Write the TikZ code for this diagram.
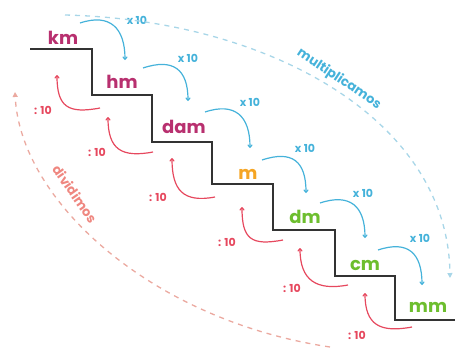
\documentclass[tikz,border=0pt]{standalone}
\usepackage{fontspec}
\setmainfont{Poppins}
\usetikzlibrary{arrows.meta}
\definecolor{unitpink}{HTML}{B8306F}
\definecolor{unitorange}{HTML}{F5A524}
\definecolor{unitgreen}{HTML}{6DBE2E}
\definecolor{mulblue}{HTML}{45B2DA}
\definecolor{divred}{HTML}{E6485E}
\definecolor{mulpale}{HTML}{A8D6E8}
\definecolor{divpale}{HTML}{EBA9A0}
\definecolor{stairgray}{HTML}{333333}
\begin{document}
\begin{tikzpicture}[
    x=1pt, y=-1pt, % pixel grid, y pointing down
    unit/.style = {anchor=base, inner sep=0pt, font=\fontsize{18}{18}\selectfont\bfseries},
    stairs/.style = {draw=stairgray, line width=2.4pt},
    mularrow/.style = {draw=mulblue, line width=1.2pt, -{To[length=3.5pt,width=5pt]}},
    divarrow/.style = {draw=divred, line width=1.2pt, -{To[length=3.5pt,width=5pt]}},
    factor/.style = {inner sep=0pt, font=\fontsize{11}{11}\selectfont\bfseries}
    ]
    \tikzstyle{bigarc} = [line width=1.3pt, dash pattern=on 5pt off 5pt]
    \tikzstyle{arctext} = [inner sep=0pt, font=\fontsize{13}{13}\selectfont\bfseries]
    \useasboundingbox (0,0) rectangle (455,349);

    % staircase
    \draw[stairs] (30,49) -- (92,49) -- (92,95) -- (152,95) -- (152,142)
        -- (212,142) -- (212,184) -- (273,184) -- (273,230) -- (335,230)
        -- (335,276) -- (395,276) -- (395,320) -- (455,320);

    % units
    \node[unit, text=unitpink]   (km)  at (63,44)   {km};
    \node[unit, text=unitpink]   (hm)  at (122,88)  {hm};
    \node[unit, text=unitpink]   (dam) at (184,133) {dam};
    \node[unit, text=unitorange] (m)   at (248,179) {m};
    \node[unit, text=unitgreen]  (dm)  at (305,223) {dm};
    \node[unit, text=unitgreen]  (cm)  at (365,270) {cm};
    \node[unit, text=unitgreen]  (mm)  at (428,312) {mm};

    % x 10 steps down
    \foreach \sx/\sy/\ex/\ey/\lx/\ly [count=\i] in {
        80/23/125/60/137/20, 143/68/188/101/188/58, 205/112/250/148/250/102,
        262/160/306/193/305/148, 320/203/365/238/363/193, 378/250/422/285/420/238} {
        \coordinate (ms\i) at (\sx,\sy);
        \coordinate (me\i) at (\ex,\ey);
        \draw[mularrow] (ms\i) .. controls +(30,-10) and +(0,-32) .. (me\i);
        \node[factor, text=mulblue] (mf\i) at (\lx,\ly) {x 10};
    }

    % : 10 steps up
    \foreach \sx/\sy/\ex/\ey/\lx/\ly [count=\i] in {
        100/108/57/75/43/110, 153/152/108/117/97/152, 215/197/172/158/158/197,
        283/240/242/207/227/242, 348/285/300/248/292/288, 412/327/365/293/357/335} {
        \coordinate (ds\i) at (\sx,\sy);
        \coordinate (de\i) at (\ex,\ey);
        \draw[divarrow] (ds\i) .. controls +(-32,6) and +(0,32) .. (de\i);
        \node[factor, text=divred] (df\i) at (\lx,\ly) {: 10};
    }

    % big arcs
    \coordinate (mulA) at (65,15);
    \coordinate (mulB) at (450,278);
    \coordinate (divA) at (330,347);
    \coordinate (divB) at (15,92);
    \draw[bigarc, draw=mulpale, -{Triangle[length=5pt,width=5pt]}]
        (mulA) .. controls (270,20) and (448,120) .. (mulB);
    \draw[bigarc, draw=divpale, -{Triangle[length=5pt,width=5pt]}]
        (divA) .. controls (150,320) and (20,200) .. (divB);
    \node[arctext, text=mulblue, rotate=-34] (multxt) at (339,79) {multiplicamos};
    \node[arctext, text=divpale!80!red, rotate=-55] (divtxt) at (75,194) {dividimos};
\end{tikzpicture}
\end{document}
